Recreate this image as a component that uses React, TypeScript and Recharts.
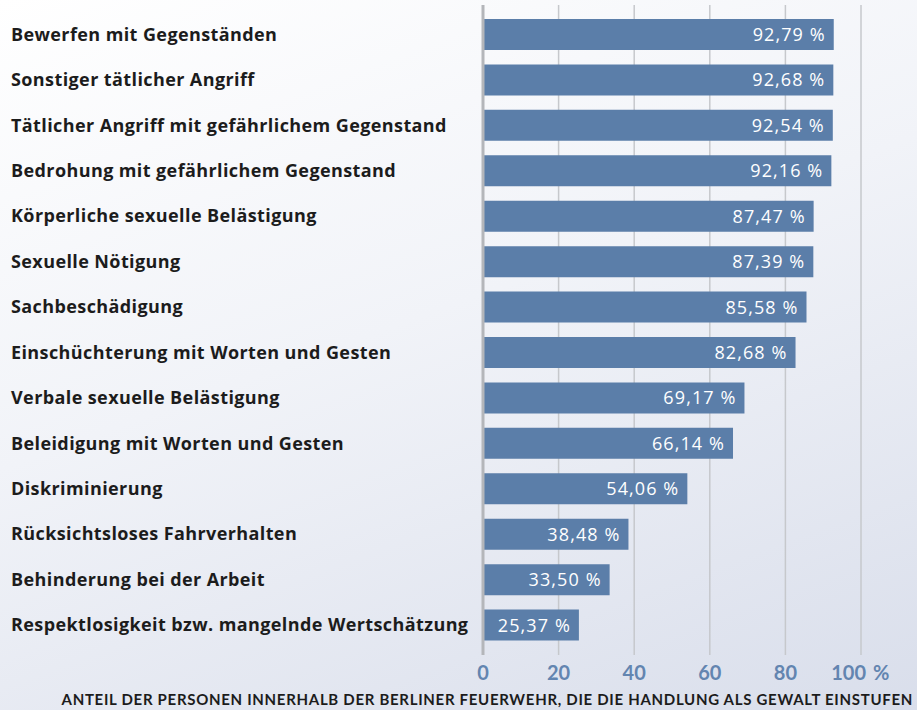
import React from 'react'
import { Bar, BarChart, CartesianGrid, LabelList, XAxis, YAxis } from 'recharts'

// Handlungen, von oben nach unten
const categories = [
    'Bewerfen mit Gegenständen',
    'Sonstiger tätlicher Angriff',
    'Tätlicher Angriff mit gefährlichem Gegenstand',
    'Bedrohung mit gefährlichem Gegenstand',
    'Körperliche sexuelle Belästigung',
    'Sexuelle Nötigung',
    'Sachbeschädigung',
    'Einschüchterung mit Worten und Gesten',
    'Verbale sexuelle Belästigung',
    'Beleidigung mit Worten und Gesten',
    'Diskriminierung',
    'Rücksichtsloses Fahrverhalten',
    'Behinderung bei der Arbeit',
    'Respektlosigkeit bzw. mangelnde Wertschätzung',
]

const shares = [92.79, 92.68, 92.54, 92.16, 87.47, 87.39, 85.58, 82.68, 69.17, 66.14, 54.06, 38.48, 33.5, 25.37]

const xTicks = [0, 20, 40, 60, 80, 100]

const axisTitle = 'ANTEIL DER PERSONEN INNERHALB DER BERLINER FEUERWEHR, DIE DIE HANDLUNG ALS GEWALT EINSTUFEN'

const data = categories.map((name, i) => ({ name, value: shares[i] }))

const LABEL_FONT = '"Open Sans", Lato, sans-serif'
const TICK_FONT = 'Lato, "Open Sans", sans-serif'

const fmt = (v: number) => v.toFixed(2).replace('.', ',') + ' %'

const CategoryTick = ({ y, payload }: any) => (
    <text x={11} y={y} dy={6} textAnchor="start" fontFamily={LABEL_FONT} fontWeight={700} fontSize={18} letterSpacing={0.4} fill="#1c1c1c">
        {payload.value}
    </text>
)

const PercentTick = ({ x, y, payload }: any) => {
    if (payload.value === 100) {
        return (
            <g>
                <text x={x + 5} y={y} dy={17} textAnchor="end" fontFamily={TICK_FONT} fontWeight={700} fontSize={20} fill="#6385b0">100</text>
                <text x={x + 12} y={y} dy={17} textAnchor="start" fontFamily={TICK_FONT} fontWeight={700} fontSize={20} fill="#6385b0">%</text>
            </g>
        )
    }
    return (
        <text x={x} y={y} dy={17} textAnchor="middle" fontFamily={TICK_FONT} fontWeight={700} fontSize={20} fill="#6385b0">
            {payload.value}
        </text>
    )
}

const ValueLabel = ({ x, y, width, height, value }: any) => (
    <text x={x + width - 8} y={y + height / 2} dy={6.5} textAnchor="end" fontFamily={LABEL_FONT} fontWeight={400} fontSize={18} letterSpacing={1.1} fill="#ffffff">
        {fmt(value)}
    </text>
)

export default function App() {
    return (
        <div style={{
            position: 'absolute', left: 0, top: 0, width: 917, height: 710,
            background: 'linear-gradient(160deg, #ffffff 0%, #f1f3f8 45%, #d9deeb 100%)',
        }}>
            <BarChart
                width={917}
                height={710}
                data={data}
                layout="vertical"
                margin={{ top: 5, right: 56, bottom: 25, left: 0 }}
            >
                <CartesianGrid vertical horizontal={false} stroke="#c6c8cc" strokeWidth={1.5} />
                <XAxis
                    type="number"
                    domain={[0, 100]}
                    ticks={xTicks}
                    axisLine={false}
                    tickLine={false}
                    height={30}
                    tick={<PercentTick />}
                    interval={0}
                />
                <YAxis
                    type="category"
                    dataKey="name"
                    width={483}
                    axisLine={{ stroke: '#b4b6ba', strokeWidth: 3 }}
                    tickLine={false}
                    tick={<CategoryTick />}
                    padding={{ top: 7, bottom: 7 }}
                    interval={0}
                />
                <Bar dataKey="value" fill="#5b7ea9" barSize={31} isAnimationActive={false}>
                    <LabelList dataKey="value" content={<ValueLabel />} />
                </Bar>
            </BarChart>
            <div style={{
                position: 'absolute', right: 4, top: 690, whiteSpace: 'nowrap',
                fontFamily: TICK_FONT, fontWeight: 700, fontSize: 15, color: '#1c1c1c', letterSpacing: 0.7,
            }}>
                {axisTitle}
            </div>
        </div>
    )
}
